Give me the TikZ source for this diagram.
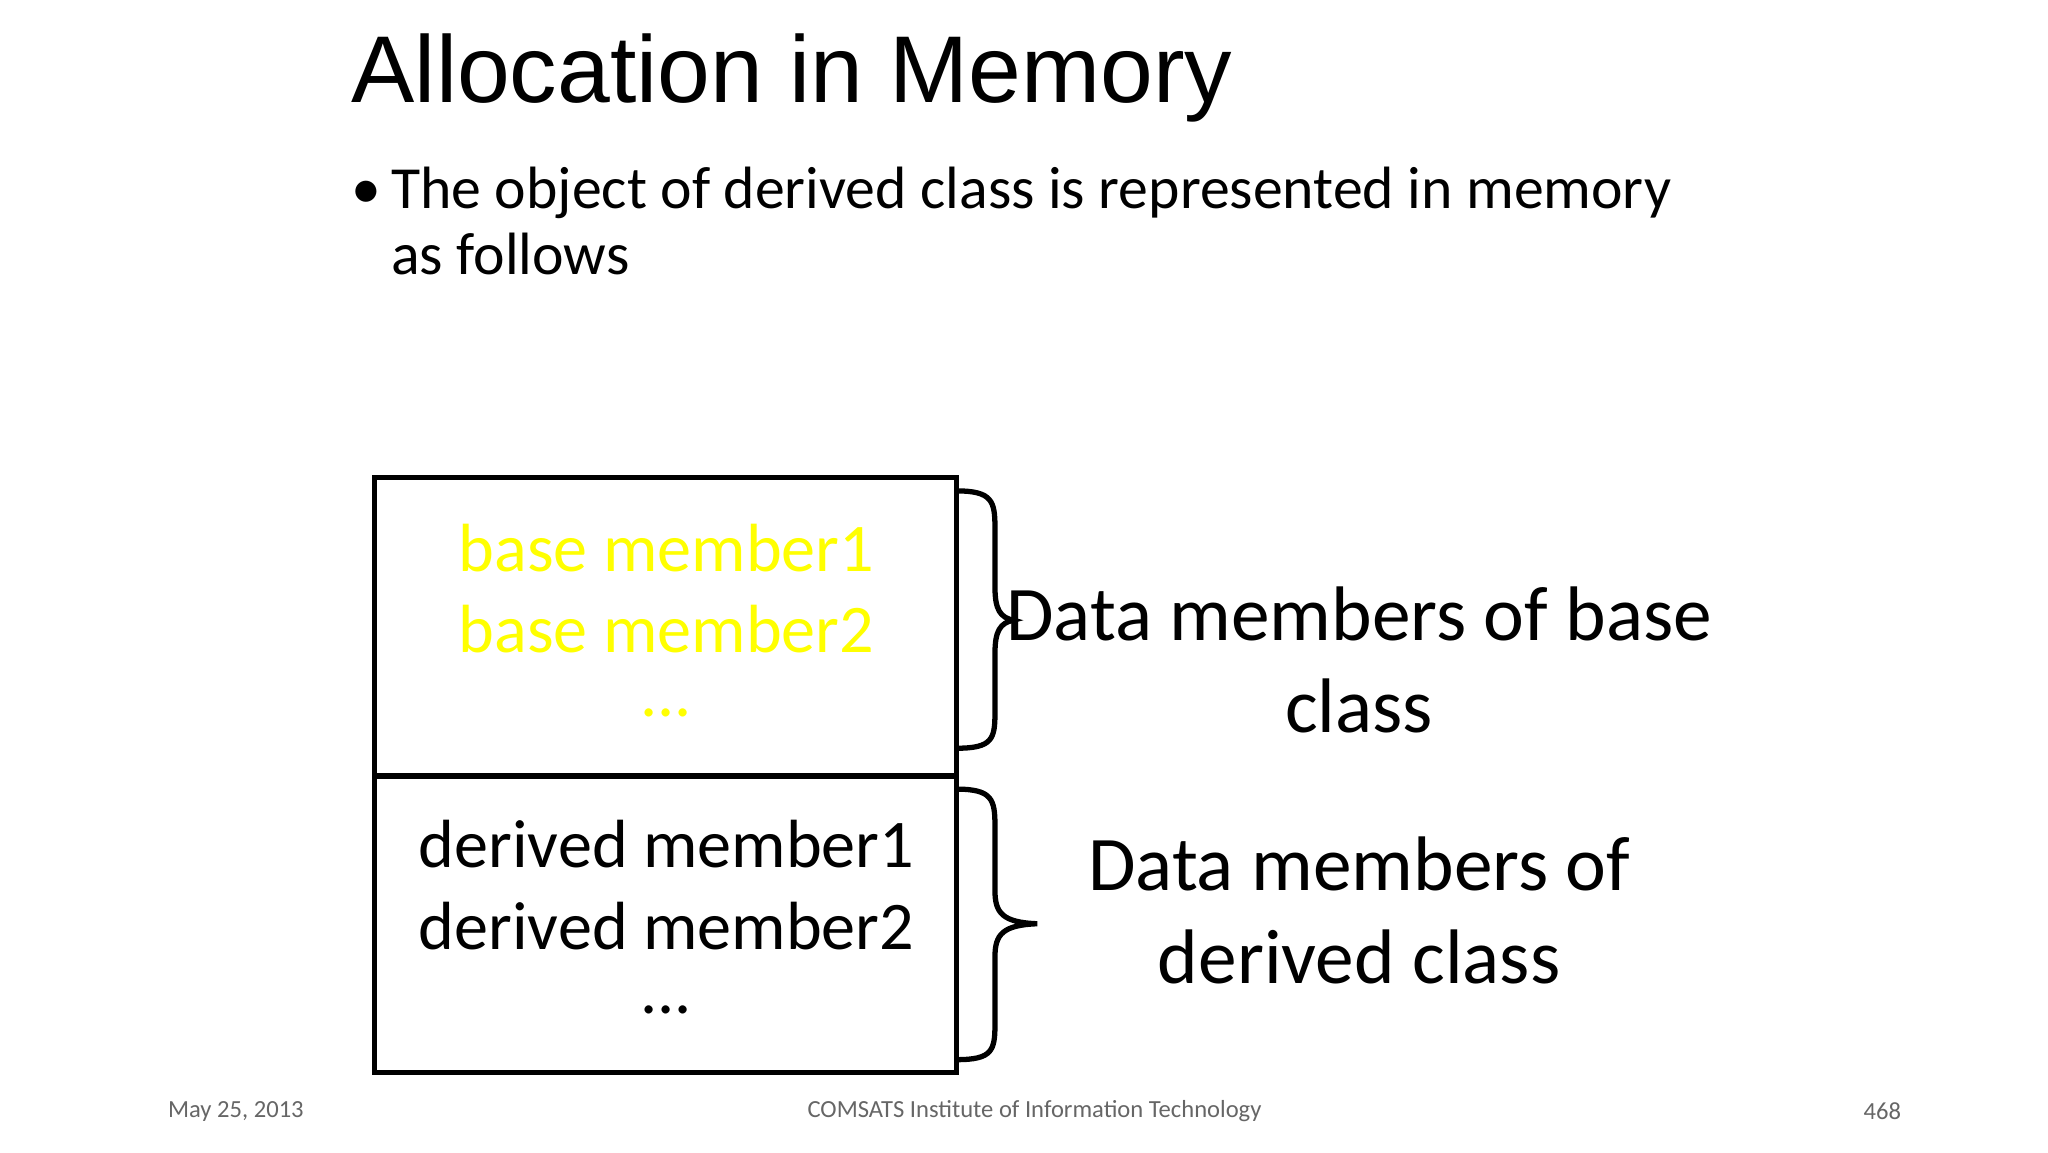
\documentclass[tikz,border=0pt]{standalone}
\usepackage{fontspec}
\setmainfont{Carlito}
\newfontfamily\arialf{Liberation Sans}
\definecolor{ylw}{HTML}{FFFF00}
\begin{document}
\begin{tikzpicture}[x=0.013196cm,y=-0.013196cm,
  boxt/.style={font=\fontsize{19.4}{22}\selectfont,anchor=center,inner sep=1pt},
  lbl/.style={font=\fontsize{22}{26}\selectfont,anchor=center},
  foot/.style={font=\fontsize{7}{8}\selectfont,text=black!60},
  brc/.style={line width=1.5pt}]
\useasboundingbox[fill=white] (0,0) rectangle (1552,873);
\node[font=\arialf\fontsize{27}{32}\selectfont,anchor=base west,inner sep=0] (title) at (266,78) {Allocation in Memory};
\node[font=\fontsize{17}{18.7}\selectfont,anchor=base west,align=left,inner sep=0] (bul) at (266,208) {\makebox[30\dimexpr0.013196cm\relax][l]{\textbullet}The object of derived class is represented in memory\\\hspace*{30\dimexpr0.013196cm\relax}as follows};
\draw[line width=1.5pt] (284,362) rectangle (725,813);
\draw[line width=1.5pt] (284,588) -- (725,588);
\node[boxt,text=ylw] (bm1) at (505,415) {base member1};
\node[boxt,text=ylw] (bm2) at (505,477) {base member2};
\node[boxt,text=ylw] (bm3) at (505,540) {...};
\node[boxt] (dm1) at (505,640) {derived member1};
\node[boxt] (dm2) at (505,702) {derived member2};
\node[boxt] (dm3) at (505,765) {...};
\draw[brc] (725,372) .. controls (752,372) and (754,380) .. (754,400) -- (754,445) .. controls (754,462) and (758,468) .. (768,470) .. controls (758,472) and (754,478) .. (754,495) -- (754,540) .. controls (754,560) and (752,567) .. (725,567);
\draw[brc] (725,598) .. controls (752,598) and (754,606) .. (754,626) -- (754,675) .. controls (754,692) and (760,699) .. (786,700) .. controls (760,701) and (754,708) .. (754,725) -- (754,776) .. controls (754,796) and (752,803) .. (725,803);
\node[lbl] (l1) at (1030,465) {Data members of base};
\node[lbl] (l2) at (1030,535) {class};
\node[lbl] (l3) at (1030,655) {Data members of};
\node[lbl] (l4) at (1030,725) {derived class};
\node[foot,anchor=west] (f1) at (118,842) {May 25, 2013};
\node[foot] (f2) at (784,842) {COMSATS Institute of Information Technology};
\node[foot,anchor=east] (f3) at (1450,842) {468};
\end{tikzpicture}
\end{document}
